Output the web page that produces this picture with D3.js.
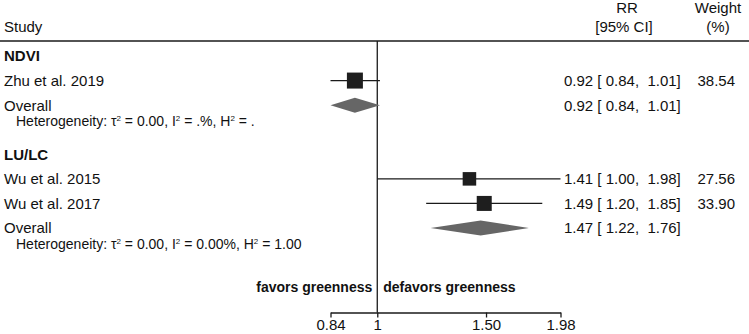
<!DOCTYPE html>
<html>
<head>
<meta charset="utf-8">
<script src="https://cdn.jsdelivr.net/npm/d3@7"></script>
<style>
  body { margin: 0; background: #fff; }
  text { font-family: "Liberation Sans", Arial, Helvetica, sans-serif; fill: #111; }
</style>
</head>
<body>
<script>
const width = 749
const height = 334

// Data
const groups = ['NDVI', 'LU/LC']
const studies = ['Zhu et al. 2019', 'Wu et al. 2015', 'Wu et al. 2017']
const studyGroup = ['NDVI', 'LU/LC', 'LU/LC']
const studyRR = [0.92, 1.41, 1.49]
const studyLo = [0.84, 1.00, 1.20]
const studyHi = [1.01, 1.98, 1.85]
const studyWeight = [38.54, 27.56, 33.90]
const overallRR = [0.92, 1.47]
const overallLo = [0.84, 1.22]
const overallHi = [1.01, 1.76]
const heterogeneity = [
  ['0.00', '.%', '.'],
  ['0.00', '0.00%', '1.00']
]
const tickValues = [0.84, 1, 1.5, 1.98]
const tickLabels = ['0.84', '1', '1.50', '1.98']

const fmt = d3.format('.2f')
const ciText = (rr, lo, hi) => `${fmt(rr)} [ ${fmt(lo)},  ${fmt(hi)}]`

const svg = d3.select('body').append('svg')
  .attr('width', width)
  .attr('height', height)

const x = d3.scaleLog()
  .domain([0.84, 1.98])
  .range([330.5, 560.5])

// rows: group header, studies, overall, blank, next group...
const rows = []
let r = 0
groups.forEach((g, gi) => {
  rows.push({type: 'group', label: g, row: r++})
  studies.forEach((s, i) => {
    if (studyGroup[i] !== g) return
    rows.push({type: 'study', label: s, row: r++, rr: studyRR[i], lo: studyLo[i], hi: studyHi[i], w: studyWeight[i]})
  })
  rows.push({type: 'overall', label: 'Overall', row: r++, rr: overallRR[gi], lo: overallLo[gi], hi: overallHi[gi], het: heterogeneity[gi]})
  r++
})

const y = d3.scaleLinear().domain([0, 7]).range([56, 228])
const axisY = 312.5
const lineColor = '#1a1a1a'

// header
svg.append('text').attr('x', 4).attr('y', 32).style('font-size', '15px').text('Study')
svg.append('text').attr('x', 627).attr('y', 13).attr('text-anchor', 'middle').style('font-size', '15px').text('RR')
svg.append('text').attr('x', 624).attr('y', 32).attr('text-anchor', 'middle').style('font-size', '15px').text('[95% CI]')
svg.append('text').attr('x', 718).attr('y', 13).attr('text-anchor', 'middle').style('font-size', '15px').text('Weight')
svg.append('text').attr('x', 718).attr('y', 32).attr('text-anchor', 'middle').style('font-size', '15px').text('(%)')
svg.append('line')
  .attr('x1', 0).attr('x2', width)
  .attr('y1', 41).attr('y2', 41)
  .attr('stroke', lineColor).attr('stroke-width', 1.6)

// null line
svg.append('line')
  .attr('x1', x(1)).attr('x2', x(1))
  .attr('y1', 41).attr('y2', axisY)
  .attr('stroke', lineColor).attr('stroke-width', 1.3)

const sizeScale = d3.scaleSqrt().domain([0, d3.max(studyWeight)]).range([0, 16])

const row = svg.selectAll('g.row')
  .data(rows)
  .enter().append('g').classed('row', true)
  .attr('transform', d => `translate(0,${y(d.row)})`)

row.append('text')
  .attr('x', 4)
  .attr('dy', '0.36em')
  .style('font-size', '15px')
  .style('font-weight', d => d.type === 'group' ? 'bold' : 'normal')
  .text(d => d.label)

const est = row.filter(d => d.type !== 'group')
est.append('text')
  .attr('x', 564)
  .attr('dy', '0.36em')
  .attr('xml:space', 'preserve')
  .style('font-size', '15px')
  .style('white-space', 'pre')
  .text(d => ciText(d.rr, d.lo, d.hi))

const st = row.filter(d => d.type === 'study')
st.append('text')
  .attr('x', 735)
  .attr('dy', '0.36em')
  .attr('text-anchor', 'end')
  .style('font-size', '15px')
  .text(d => fmt(d.w))
st.append('line')
  .attr('x1', d => x(d.lo)).attr('x2', d => x(d.hi))
  .attr('stroke', lineColor).attr('stroke-width', 1.3)
st.append('rect')
  .attr('x', d => x(d.rr) - sizeScale(d.w) / 2)
  .attr('y', d => -sizeScale(d.w) / 2)
  .attr('width', d => sizeScale(d.w))
  .attr('height', d => sizeScale(d.w))
  .attr('fill', '#1e1e1e')

const ov = row.filter(d => d.type === 'overall')
ov.append('path')
  .attr('d', d => `M${x(d.lo)},0 L${x(d.rr)},-7.5 L${x(d.hi)},0 L${x(d.rr)},7.5 Z`)
  .attr('fill', '#666')

const het = ov.append('text')
  .attr('x', 16)
  .attr('y', 15.5)
  .attr('dy', '0.36em')
  .style('font-size', '14px')
het.append('tspan').text('Heterogeneity: τ')
het.append('tspan').attr('dy', -5).style('font-size', '8px').text('2')
het.append('tspan').attr('dy', 5).text(d => ` = ${d.het[0]}, I`)
het.append('tspan').attr('dy', -5).style('font-size', '8px').text('2')
het.append('tspan').attr('dy', 5).text(d => ` = ${d.het[1]}, H`)
het.append('tspan').attr('dy', -5).style('font-size', '8px').text('2')
het.append('tspan').attr('dy', 5).text(d => ` = ${d.het[2]}`)

// direction labels
svg.append('text')
  .attr('x', x(1) - 5).attr('y', 287).attr('dy', '0.36em')
  .attr('text-anchor', 'end')
  .style('font-size', '14px').style('font-weight', 'bold')
  .text('favors greenness')
svg.append('text')
  .attr('x', x(1) + 6).attr('y', 287).attr('dy', '0.36em')
  .style('font-size', '14px').style('font-weight', 'bold')
  .text('defavors greenness')

// x axis
const axis = svg.append('g')
  .attr('transform', `translate(0,${axisY})`)
  .call(d3.axisBottom(x)
    .tickValues(tickValues)
    .tickFormat((d, i) => tickLabels[i])
    .tickSize(5)
    .tickPadding(2)
    .tickSizeOuter(0))
axis.select('.domain').attr('stroke', lineColor).attr('stroke-width', 1.3)
axis.selectAll('.tick line').attr('stroke', lineColor).attr('stroke-width', 1.3)
axis.selectAll('.tick text')
  .style('font-size', '15px')
  .style('font-family', '"Liberation Sans", Arial, sans-serif')
  .attr('fill', '#111')
</script>
</body>
</html>
